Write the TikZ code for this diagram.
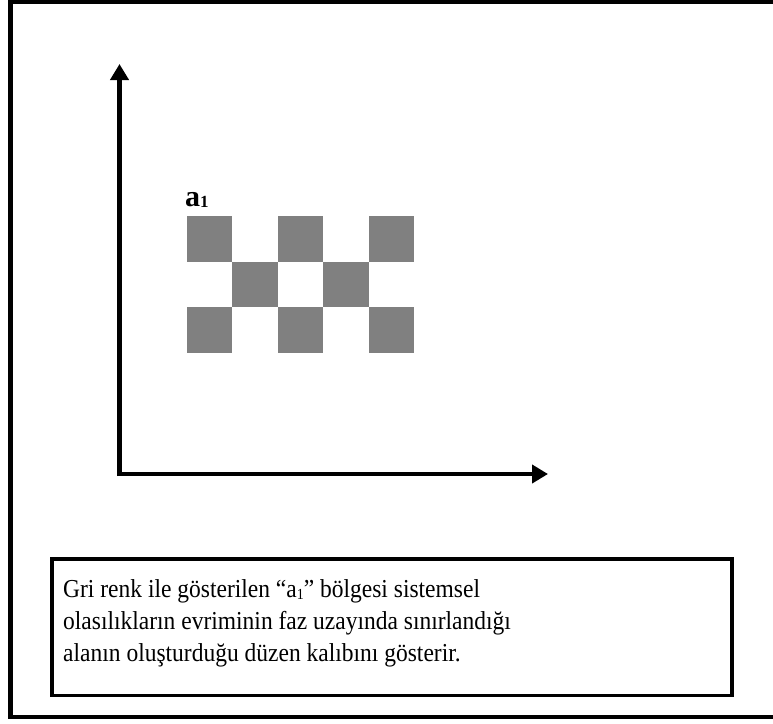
\documentclass[tikz,border=0pt]{standalone}
\usepackage{fontspec}
\setmainfont{Liberation Serif}
\usetikzlibrary{arrows.meta}
\begin{document}
\begin{tikzpicture}[x=1pt,y=-1pt,
  frameline/.style={line width=4.5pt},
  axisline/.style={line width=4.5pt,-{Triangle[length=16pt,width=18pt]}},
  cell/.style={fill=black!50,draw=none},
  boxline/.style={line width=3.5pt},
  label/.style={inner sep=0pt,anchor=base west,font=\bfseries\fontsize{30}{32}\selectfont},
  caption/.style={inner sep=0pt,anchor=north west,font=\fontsize{23.5}{29}\selectfont}]
\useasboundingbox (0,0) rectangle (773,723);
% outer frame
\coordinate (ftr) at (775,2);
\coordinate (ftl) at (10.5,2);
\coordinate (fbl) at (10.5,717);
\coordinate (fbr) at (775,717);
\draw[frameline] (ftr) -- (ftl) -- (fbl) -- (fbr);
% axes
\coordinate (oy) at (119.5,476);
\coordinate (ytip) at (119.5,64);
\coordinate (ox) at (117.5,474);
\coordinate (xtip) at (548,474);
\draw[axisline] (oy) -- (ytip);
\draw[axisline] (ox) -- (xtip);
% checker
\foreach \i in {0,...,4}{
  \foreach \j in {0,1,2}{
    \pgfmathtruncatemacro{\p}{mod(\i+\j,2)}
    \ifnum\p=0
      \fill[cell] (187+\i*45.4,216+\j*45.6) rectangle ++(45.4,45.6);
    \fi
  }
}
\node[label] (a1) at (185,206) {a\raisebox{-1pt}{\fontsize{17}{17}\selectfont 1}};
% caption box
\coordinate (btl) at (52,559);
\coordinate (bbr) at (732,695.5);
\draw[boxline] (btl) rectangle (bbr);
\node[caption] (cap) at (63,575) {\scalebox{1}[1.1]{\begin{tabular}{@{}l@{}}Gri renk ile gösterilen “a\raisebox{-2pt}{\fontsize{14}{14}\selectfont 1}” bölgesi sistemsel\\olasılıkların evriminin faz uzayında sınırlandığı\\alanın oluşturduğu düzen kalıbını gösterir.\end{tabular}}};
\end{tikzpicture}
\end{document}
